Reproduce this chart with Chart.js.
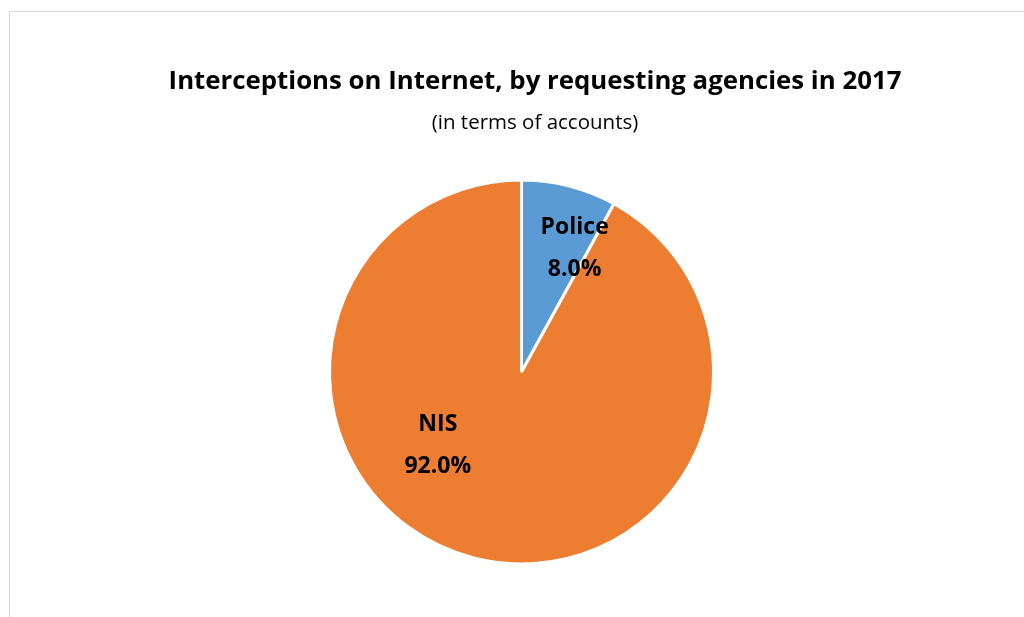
<!DOCTYPE html>
<html>
<head>
<meta charset="utf-8">
<script src="https://cdn.jsdelivr.net/npm/chart.js@4/dist/chart.umd.min.js"></script>
<style>
  html, body { margin: 0; padding: 0; background: #fff; }
  #wrap { position: relative; width: 1024px; height: 617px; overflow: hidden; }
  #frame { position: absolute; left: 9px; top: 11px; width: 1100px; height: 700px;
           border-left: 1px solid #d9d9d9; border-top: 1px solid #d9d9d9; }
  canvas { position: absolute; left: 0; top: 0; }
</style>
</head>
<body>
<div id="wrap">
  <div id="frame"></div>
  <canvas id="myChart" width="1024" height="617"></canvas>
</div>
<script>
// datos del gráfico
const titleText = 'Interceptions on Internet, by requesting agencies in 2017';
const subtitleText = '(in terms of accounts)';
const labels = ['Police', 'NIS'];
const values = [8.0, 92.0];
const colors = ['#5B9BD5', '#ED7D31'];

// posición de las etiquetas: ángulo desde arriba (grados) y fracción del radio
const labelAngles = [23.3, 228.7];
const labelRadii = [0.70, 0.58];

const fontFamily = '"Open Sans", "Noto Sans", sans-serif';

// plugin para dibujar título y etiquetas
const textPlugin = {
    id: 'textPlugin',
    afterDraw(chart) {
        const ctx = chart.ctx;
        ctx.save();
        ctx.fillStyle = '#000';
        ctx.textAlign = 'center';
        ctx.textBaseline = 'middle';
        ctx.font = 'bold 25.8px ' + fontFamily;
        ctx.fillText(titleText, 535, 82);
        ctx.font = '20.5px ' + fontFamily;
        ctx.fillText(subtitleText, 535, 123);

        const meta = chart.getDatasetMeta(0);
        const total = values.reduce((s, v) => s + v, 0);
        meta.data.forEach((arc, i) => {
            const a = labelAngles[i] * Math.PI / 180;
            const r = arc.outerRadius * labelRadii[i];
            const x = arc.x + Math.sin(a) * r;
            const y = arc.y - Math.cos(a) * r;
            ctx.font = 'bold 23px ' + fontFamily;
            ctx.fillText(labels[i], x, y - 21);
            ctx.fillText((values[i] / total * 100).toFixed(1) + '%', x, y + 21);
        });
        ctx.restore();
    }
};

const ctx = document.getElementById('myChart').getContext('2d');
const myChart = new Chart(ctx, {
    type: 'pie',
    data: {
        labels: labels,
        datasets: [{
            data: values,
            backgroundColor: colors,
            borderColor: '#ffffff',
            borderWidth: 3,
            hoverOffset: 0
        }]
    },
    options: {
        responsive: false,
        animation: false,
        layout: {
            padding: { left: 328, right: 309, top: 178, bottom: 51 }
        },
        plugins: {
            legend: { display: false },
            tooltip: { enabled: false },
            title: { display: false }
        }
    },
    plugins: [textPlugin]
});
</script>
</body>
</html>
